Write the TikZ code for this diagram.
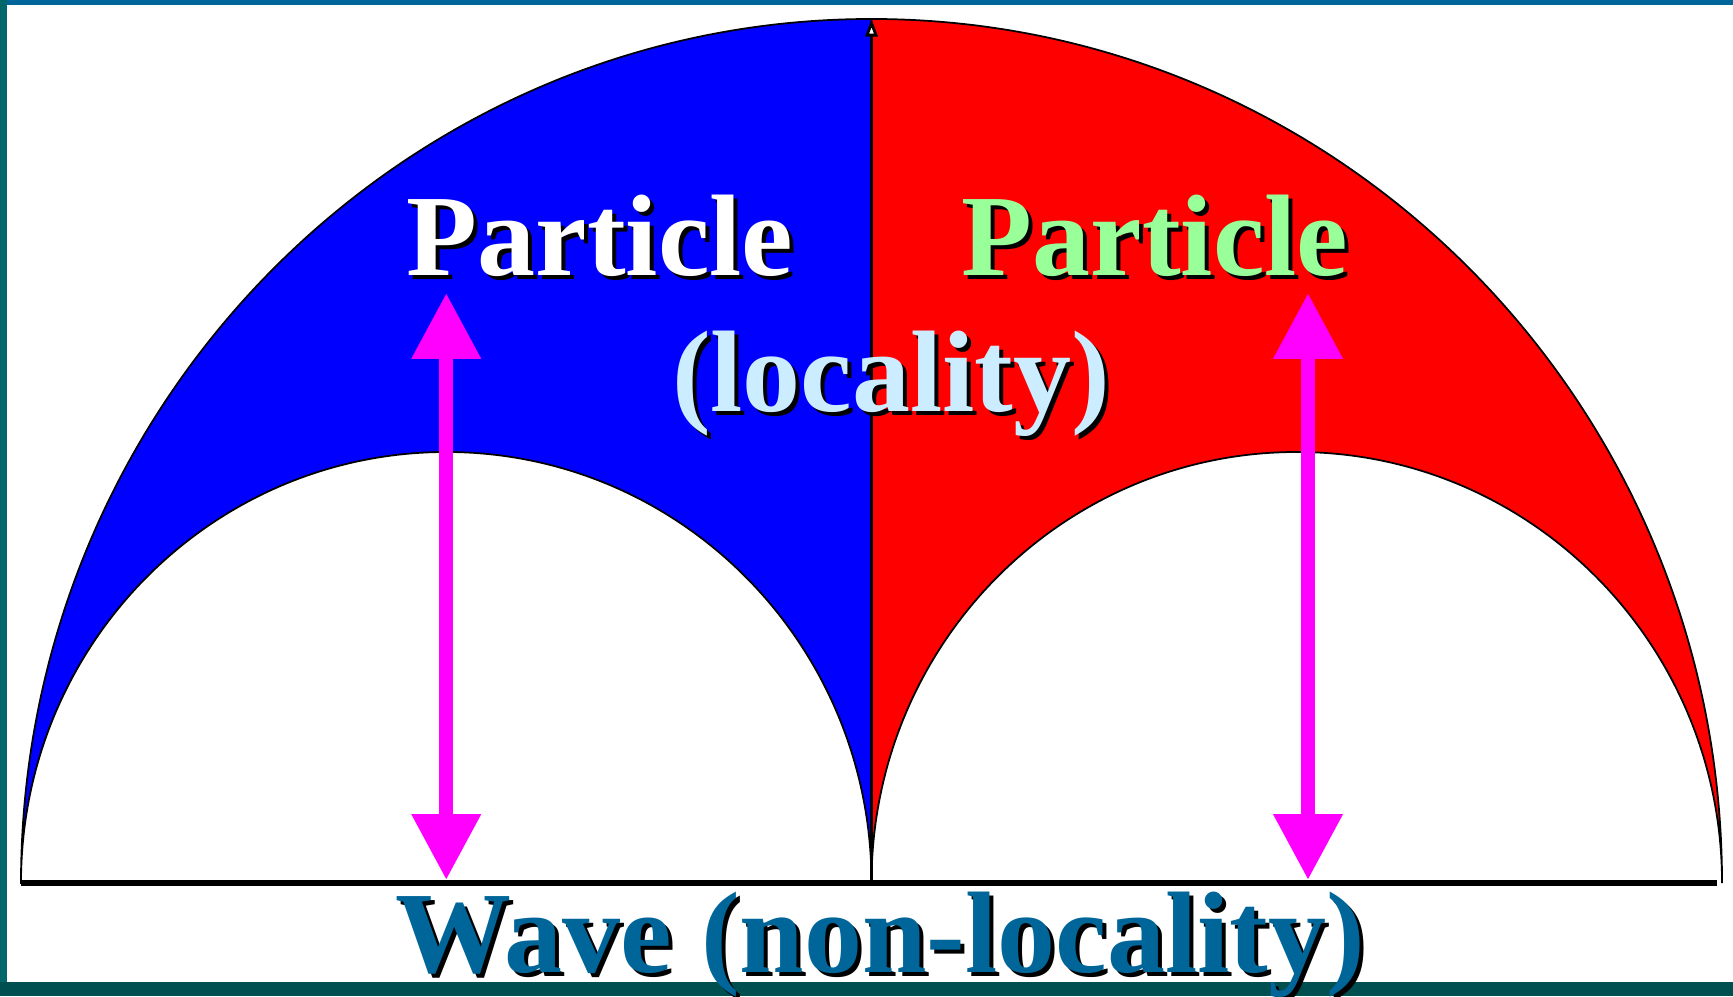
\documentclass[tikz,border=0pt]{standalone}
\usepackage{tikz}
\usepackage{xcolor}
\usepackage{fontspec}
\setmainfont{Liberation Serif}
\usetikzlibrary{
    positioning,
    calc,
    arrows.meta
}
\definecolor{AzulMoldura}{HTML}{006699}
\definecolor{VerdeMoldura}{HTML}{00676A}
\definecolor{VerdeEscuro}{HTML}{004F50}
\definecolor{AzulPuro}{HTML}{0000FF}
\definecolor{VermelhoPuro}{HTML}{FF0000}
\definecolor{RosaSeta}{HTML}{FF00FF}
\definecolor{VerdeClaro}{HTML}{99FF99}
\definecolor{AzulClaro}{HTML}{CCECFF}
\definecolor{AzulOnda}{HTML}{006699}

% texto com sombra preta deslocada
\newcommand{\comSombra}[2]{%
    \leavevmode\rlap{\kern0.4mm\raisebox{-0.4mm}{\color{black}#2}}{\color{#1}#2}}

\tikzset{
    rotulo/.style={
        anchor=base,
        inner sep=0pt,
        font=\fontsize{33}{36}\selectfont\bfseries
    },
    seta/.style={
        RosaSeta,
        line width=1.4mm,
        {Triangle[width=6.6mm,length=6.6mm]}-{Triangle[width=6.6mm,length=6.6mm]}
    }
}

\begin{document}
\begin{tikzpicture}
    \useasboundingbox (0,0) rectangle (17.33,9.96);
    % moldura
    \fill[white] (0,0) rectangle (17.33,9.96);
    \fill[AzulMoldura] (0,9.91) rectangle (17.33,9.96);
    \fill[VerdeMoldura] (0,0) rectangle (0.07,9.96);
    \fill[VerdeEscuro] (0,0) rectangle (17.33,0.14);

    % pontos principais
    \coordinate (esquerda) at (0.21,1.13);
    \coordinate (centro) at (8.715,1.13);
    \coordinate (direita) at (17.225,1.13);
    \coordinate (topo) at (8.715,9.77);

    % metade azul
    \filldraw[fill=AzulPuro, draw=black, line width=0.5pt]
        (esquerda) arc[start angle=180, end angle=90, x radius=8.505, y radius=8.64]
        -- (centro)
        arc[start angle=0, end angle=180, x radius=4.2525, y radius=4.31] -- cycle;

    % metade vermelha
    \filldraw[fill=VermelhoPuro, draw=black, line width=0.5pt]
        (topo) arc[start angle=90, end angle=0, x radius=8.505, y radius=8.64]
        arc[start angle=0, end angle=180, x radius=4.2525, y radius=4.31]
        -- cycle;

    % eixo central e base
    \draw[line width=0.8pt, -{Triangle[width=3.5pt,length=5pt,fill=white]}] (centro) -- (topo);
    \draw[line width=1.7pt] (esquerda) -- (17.17,1.13);

    % setas
    \coordinate (setaEsqBaixo) at (4.4625,1.16);
    \coordinate (setaEsqCima) at (4.4625,7.03);
    \coordinate (setaDirBaixo) at (13.08,1.16);
    \coordinate (setaDirCima) at (13.08,7.03);
    \draw[seta] (setaEsqBaixo) -- (setaEsqCima);
    \draw[seta] (setaDirBaixo) -- (setaDirCima);

    % textos
    \node[rotulo] (particulaEsq) at (6.00,7.20) {\comSombra{white}{Particle}};
    \node[rotulo] (particulaDir) at (11.55,7.20) {\comSombra{VerdeClaro}{Particle}};
    \node[rotulo] (localidade) at (8.91,5.84) {\comSombra{AzulClaro}{(locality)}};
    \node[rotulo] (onda) at (8.80,0.24) {\comSombra{AzulOnda}{Wave (non-locality)}};
\end{tikzpicture}
\end{document}
